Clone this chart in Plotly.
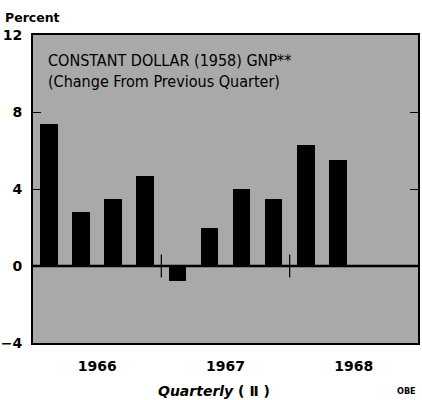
import plotly.graph_objects as go

quarters = list(range(10))
values = [7.4, 2.8, 3.5, 4.7, -0.8, 2.0, 4.0, 3.5, 6.3, 5.5]
years = ["1966", "1967", "1968"]
year_centers = [1.5, 5.5, 9.5]
year_dividers = [3.5, 7.5]
y_ticks = [-4, 0, 4, 8, 12]
y_labels = ["\u22124", "0", "4", "8", "12"]

fig = go.Figure()
fig.add_trace(go.Bar(x=quarters, y=values, width=0.55,
                     marker=dict(color="black", line=dict(width=0))))

for d in year_dividers:
    fig.add_shape(type="line", x0=d, x1=d, y0=-0.6, y1=0.6,
                  line=dict(color="black", width=1.2))
fig.add_shape(type="line", xref="paper", x0=0, x1=1, y0=0, y1=0,
              line=dict(color="black", width=2.5))

lab_font = dict(family="DejaVu Sans", size=14, color="black", weight="bold")
fig.update_layout(
    width=422, height=400,
    margin=dict(l=33, r=4, t=35, b=57, autoexpand=False),
    paper_bgcolor="white", plot_bgcolor="#a9a9a9",
    showlegend=False, bargap=0,
    xaxis=dict(range=[-0.5, 11.5], tickvals=year_centers, ticktext=years,
               ticks="", showgrid=False, zeroline=False, automargin=False,
               showline=True, linecolor="black", linewidth=2, mirror=True,
               tickfont=lab_font, ticklabelstandoff=9),
    yaxis=dict(range=[-4, 12], tickvals=y_ticks, ticktext=y_labels,
               ticks="inside", ticklen=8, tickwidth=1.2, tickcolor="black",
               showgrid=False, zeroline=False, automargin=False,
               showline=True, linecolor="black", linewidth=2, mirror="ticks",
               tickfont=lab_font, ticklabelstandoff=6),
    annotations=[
        dict(text="Percent", xref="paper", yref="paper", x=-0.078, y=1.0,
             yshift=18, xanchor="left", yanchor="middle", showarrow=False,
             font=dict(family="DejaVu Sans", size=12.5, color="black", weight="bold")),
        dict(text="CONSTANT DOLLAR (1958) GNP**<br>(Change From Previous Quarter)",
             xref="paper", yref="paper", x=0.035, y=0.955, xanchor="left",
             yanchor="top", align="left", showarrow=False,
             font=dict(family="Liberation Sans Narrow, DejaVu Sans Condensed",
                       size=16, color="black")),
        dict(text="<i>Quarterly</i> ( \u2161 )", xref="paper", yref="paper",
             x=0.47, y=0, yshift=-48, xanchor="center", yanchor="middle",
             showarrow=False,
             font=dict(family="DejaVu Sans", size=14, color="black", weight="bold")),
        dict(text="OBE", xref="paper", yref="paper", x=1.0, y=0, yshift=-48,
             xanchor="right", yanchor="middle", showarrow=False,
             font=dict(family="DejaVu Sans Condensed", size=9, color="black",
                       weight="bold")),
    ],
)
fig.write_html("out.html", config={"displayModeBar": False},
               post_script="document.body.style.margin='0';document.body.style.overflow='hidden';")
